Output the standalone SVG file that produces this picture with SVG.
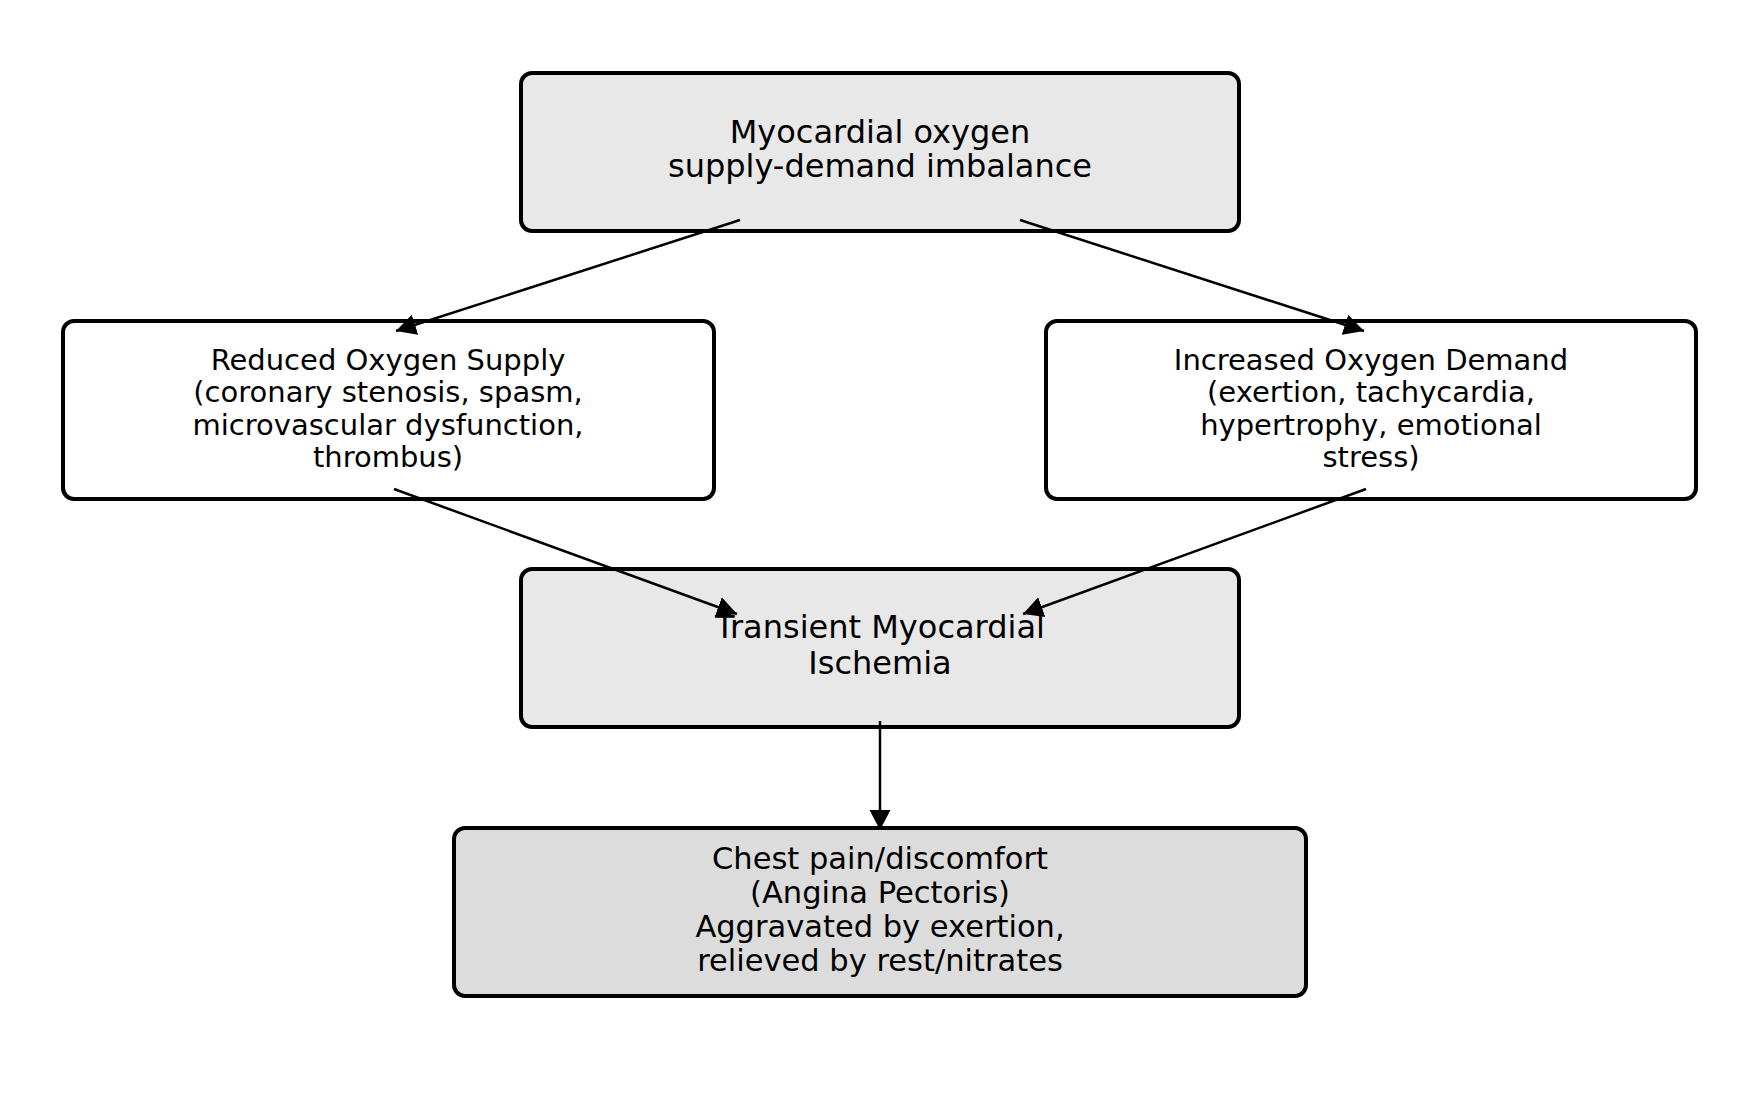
<svg xmlns="http://www.w3.org/2000/svg" width="1760" height="1100" viewBox="0 0 1760 1100">
<style>
.box{stroke:#000;stroke-width:4}
.t{font-family:"DejaVu Sans",sans-serif;fill:#000;text-anchor:middle}
.big{font-size:32px}
.mid{font-size:32px}
.bot{font-size:30.5px}
.small{font-size:29px}
.c{stroke:#000;stroke-width:2.5;fill:none}
</style>
<defs>
<marker id="ah" markerUnits="userSpaceOnUse" markerWidth="22" markerHeight="22" refX="20" refY="10.5" orient="auto" viewBox="0 0 22 21">
<path d="M0,0 L20,10.5 L0,21 z" fill="#000"/>
</marker>
</defs>
<rect width="1760" height="1100" fill="#fff"/>
<g id="node-top">
<rect class="box" x="521" y="73" width="718" height="158" rx="11" fill="#e8e8e8"/>
<text class="t big" x="880" y="143">Myocardial oxygen</text>
<text class="t big" x="880" y="177">supply-demand imbalance</text>
</g>
<g id="node-supply">
<rect class="box" x="63" y="321" width="651" height="178" rx="11" fill="#fff"/>
<text class="t small" x="388" y="370">Reduced Oxygen Supply</text>
<text class="t small" x="388" y="402">(coronary stenosis, spasm,</text>
<text class="t small" x="388" y="435">microvascular dysfunction,</text>
<text class="t small" x="388" y="467">thrombus)</text>
</g>
<g id="node-demand">
<rect class="box" x="1046" y="321" width="650" height="178" rx="11" fill="#fff"/>
<text class="t small" x="1371" y="370">Increased Oxygen Demand</text>
<text class="t small" x="1371" y="402">(exertion, tachycardia,</text>
<text class="t small" x="1371" y="435">hypertrophy, emotional</text>
<text class="t small" x="1371" y="467">stress)</text>
</g>
<g id="node-ischemia">
<rect class="box" x="521" y="569" width="718" height="158" rx="11" fill="#e8e8e8"/>
<text class="t mid" x="880" y="638">Transient Myocardial</text>
<text class="t mid" x="880" y="674">Ischemia</text>
</g>
<g id="node-angina">
<rect class="box" x="454" y="828" width="852" height="168" rx="11" fill="#dcdcdc"/>
<text class="t bot" x="880" y="869">Chest pain/discomfort</text>
<text class="t bot" x="880" y="903">(Angina Pectoris)</text>
<text class="t bot" x="880" y="937">Aggravated by exertion,</text>
<text class="t bot" x="880" y="971">relieved by rest/nitrates</text>
</g>
<g id="connectors">
<line class="c" x1="740" y1="220" x2="396" y2="331" marker-end="url(#ah)"/>
<line class="c" x1="1020" y1="220" x2="1364" y2="331" marker-end="url(#ah)"/>
<line class="c" x1="394" y1="489" x2="737" y2="614" marker-end="url(#ah)"/>
<line class="c" x1="1366" y1="489" x2="1023" y2="614" marker-end="url(#ah)"/>
<line class="c" x1="880" y1="721" x2="880" y2="830" marker-end="url(#ah)"/>
</g>
</svg>
